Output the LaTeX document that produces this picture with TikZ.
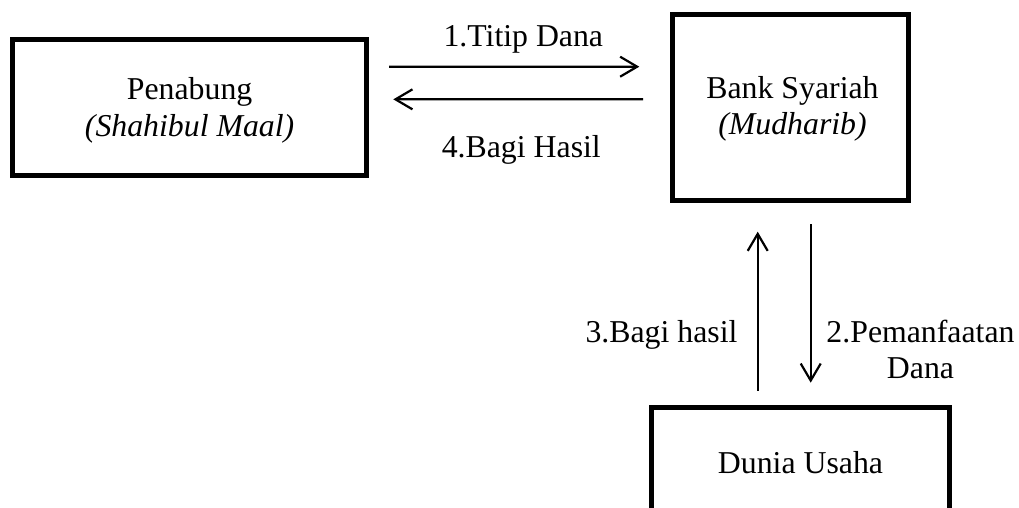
\documentclass[tikz,border=0pt]{standalone}
\usepackage{fontspec}
\setmainfont{Liberation Serif}
\usetikzlibrary{arrows.meta,calc}
\tikzset{
  boxnode/.style={draw, line width=5pt, inner sep=0pt, outer sep=0pt},
  txt/.style={anchor=base, inner sep=0pt, font=\fontsize{31.8}{36}\selectfont},
  arr/.style={line width=2.2pt, -{Straight Barb[length=17pt,width=20pt,line width=2.2pt]}},
}
\begin{document}
\begin{tikzpicture}[x=1pt,y=-1pt]
\clip (0,0) rectangle (1019,508);
\fill[white] (0,0) rectangle (1019,508);
% boxes
\node[boxnode, minimum width=354.3pt, minimum height=136.3pt] (pen) at (189.65,107.65) {};
\node[boxnode, minimum width=236pt, minimum height=185pt] (bank) at (790.5,107.5) {};
\node[boxnode, minimum width=298pt, minimum height=120pt] (dun) at (800.5,467.5) {};
% box texts
\node[txt] (pentext) at (189.6,100) {\begin{tabular}[t]{@{}c@{}}Penabung\\\textit{(Shahibul Maal)}\end{tabular}};
\node[txt] (banktext) at (792.5,99) {\begin{tabular}[t]{@{}c@{}}Bank Syariah\\\textit{(Mudharib)}\end{tabular}};
\node[txt] (duntext) at (800.5,473) {Dunia Usaha};
% labels
\node[txt] (l1) at (523.3,47) {1.Titip Dana};
\node[txt] (l4) at (521.3,157) {4.Bagi Hasil};
\node[txt] (l3) at (661.5,342) {3.Bagi hasil};
\node[txt] (l2) at (920.5,342) {\begin{tabular}[t]{@{}c@{}}2.Pemanfaatan\\Dana\end{tabular}};
% arrows
\draw[arr] ($(pen.east)+(22.2,-40.9)$) -- ($(bank.west)+(-33.2,-40.8)$);
\draw[arr] ($(bank.west)+(-29.5,-8.2)$) -- ($(pen.east)+(26.5,-8.3)$);
\draw[arr] ($(dun.north)+(-42.8,-16.8)$) -- ($(bank.south)+(-32.8,31.7)$);
\draw[arr] ($(bank.south)+(20.2,24)$) -- ($(dun.north)+(10.2,-24.8)$);
\end{tikzpicture}
\end{document}
